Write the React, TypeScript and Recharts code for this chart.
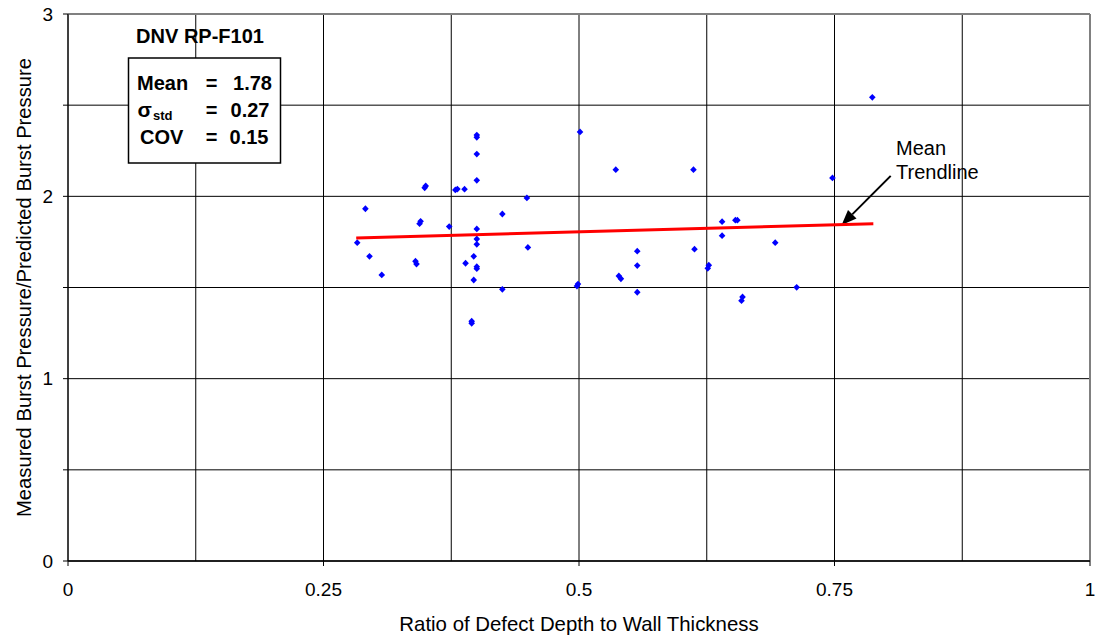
import React from 'react';
import {
  ScatterChart,
  Scatter,
  XAxis,
  YAxis,
  CartesianGrid,
  ReferenceLine,
} from 'recharts';

// Ratio of defect depth to wall thickness (x)
const defectRatio = [
  0.283, 0.291, 0.295, 0.307, 0.340, 0.341, 0.344, 0.345, 0.349, 0.350,
  0.373, 0.379, 0.381, 0.388, 0.389, 0.395, 0.395, 0.397, 0.397, 0.400,
  0.400, 0.400, 0.400, 0.400, 0.400, 0.400, 0.400, 0.400, 0.425, 0.425,
  0.449, 0.450, 0.498, 0.499, 0.501, 0.536, 0.539, 0.541, 0.557, 0.557,
  0.557, 0.612, 0.613, 0.626, 0.627, 0.640, 0.640, 0.653, 0.655, 0.659,
  0.660, 0.692, 0.713, 0.748, 0.787,
];

// Measured burst pressure / predicted burst pressure (y)
const burstRatio = [
  1.746, 1.932, 1.671, 1.569, 1.644, 1.629, 1.850, 1.863, 2.047, 2.057,
  1.834, 2.035, 2.040, 2.039, 1.633, 1.315, 1.304, 1.671, 1.541, 2.336,
  2.324, 2.232, 2.088, 1.821, 1.766, 1.737, 1.614, 1.603, 1.903, 1.490,
  1.991, 1.720, 1.508, 1.519, 2.353, 2.146, 1.563, 1.548, 1.699, 1.620,
  1.474, 2.146, 1.710, 1.605, 1.622, 1.861, 1.784, 1.869, 1.869, 1.428,
  1.448, 1.746, 1.501, 2.101, 2.543,
];

// Mean trendline end points
const trendX = [0.282, 0.788];
const trendY = [1.771, 1.85];

// Annotation arrow (start -> tip)
const arrowX = [0.805, 0.757];
const arrowY = [2.112, 1.843];

const xTicks = [0, 0.25, 0.5, 0.75, 1];
const yTicks = [0, 0.5, 1, 1.5, 2, 2.5, 3];
const minorXGrid = [0.125, 0.375, 0.625, 0.875];

const points = defectRatio.map((x, i) => ({ x, y: burstRatio[i] }));
const trend = trendX.map((x, i) => ({ x, y: trendY[i] }));

const FONT = '"Liberation Sans", Arial, Helvetica, sans-serif';

const Diamond = (props: any) => {
  const { cx, cy } = props;
  if (cx == null || cy == null) return <g />;
  const w = 3.3;
  const h = 3.4;
  return (
    <polygon
      points={`${cx},${cy - h} ${cx + w},${cy} ${cx},${cy + h} ${cx - w},${cy}`}
      fill="#0000ff"
    />
  );
};

const ArrowShape = (props: any) => {
  const { x1, y1, x2, y2 } = props;
  if ([x1, y1, x2, y2].some((v) => v == null || isNaN(v))) return <g />;
  const dx = x2 - x1;
  const dy = y2 - y1;
  const len = Math.sqrt(dx * dx + dy * dy);
  const ux = dx / len;
  const uy = dy / len;
  const headLen = 15;
  const headW = 6;
  const bx = x2 - ux * headLen;
  const by = y2 - uy * headLen;
  const px = -uy;
  const py = ux;
  return (
    <g>
      <line x1={x1} y1={y1} x2={bx} y2={by} stroke="#000" strokeWidth={2} />
      <polygon
        points={`${x2},${y2} ${bx + px * headW},${by + py * headW} ${bx - px * headW},${by - py * headW}`}
        fill="#000"
      />
    </g>
  );
};

export default function App() {
  return (
    <div
      style={{
        position: 'absolute',
        left: 0,
        top: 0,
        width: 1098,
        height: 638,
        background: '#fff',
        fontFamily: FONT,
      }}
    >
      <ScatterChart
        width={1098}
        height={638}
        margin={{ top: 14, right: 8, bottom: 0, left: 0 }}
      >
        <CartesianGrid stroke="#000" strokeWidth={1} />
        {minorXGrid.map((v) => (
          <ReferenceLine key={v} x={v} stroke="#000" strokeWidth={1} />
        ))}
        <ReferenceLine y={3} stroke="#808080" strokeWidth={2} />
        <ReferenceLine x={1} stroke="#808080" strokeWidth={2} />
        <XAxis
          type="number"
          dataKey="x"
          domain={[0, 1]}
          ticks={xTicks}
          tickFormatter={(v: number) => String(v)}
          height={77}
          tickSize={5}
          tickMargin={17}
          axisLine={{ stroke: '#000', strokeWidth: 1.5 }}
          tickLine={{ stroke: '#000' }}
          tick={{ fill: '#000', fontSize: 19, fontFamily: FONT }}
          interval={0}
          label={{
            value: 'Ratio of Defect Depth to Wall Thickness',
            position: 'insideBottom',
            offset: 7,
            fill: '#000',
            fontSize: 20.4,
            fontFamily: FONT,
          }}
        />
        <YAxis
          type="number"
          dataKey="y"
          domain={[0, 3]}
          ticks={yTicks}
          tickFormatter={(v: number) => (Number.isInteger(v) ? String(v) : '')}
          width={68}
          tickSize={5}
          tickMargin={10}
          axisLine={{ stroke: '#000', strokeWidth: 1 }}
          tickLine={{ stroke: '#000' }}
          tick={{ fill: '#000', fontSize: 19, fontFamily: FONT }}
          interval={0}
          label={{
            value: 'Measured Burst Pressure/Predicted Burst Pressure',
            angle: -90,
            position: 'center',
            dx: -10,
            fill: '#000',
            fontSize: 20.2,
            fontFamily: FONT,
          }}
        />
        <Scatter
          data={points}
          shape={<Diamond />}
          isAnimationActive={false}
        />
        <Scatter
          data={trend}
          line={{ stroke: '#ff0000', strokeWidth: 3 }}
          lineType="joint"
          shape={() => <g />}
          isAnimationActive={false}
        />
        <ReferenceLine
          segment={[
            { x: arrowX[0], y: arrowY[0] },
            { x: arrowX[1], y: arrowY[1] },
          ]}
          shape={<ArrowShape />}
        />
      </ScatterChart>
      <svg
        width={1098}
        height={638}
        style={{ position: 'absolute', left: 0, top: 0, pointerEvents: 'none' }}
      >
        <g fontFamily={FONT} fill="#000">
          <text x={200} y={43} textAnchor="middle" fontWeight="bold" fontSize={20}>
            DNV RP-F101
          </text>
          <rect x={128.5} y={58} width={152} height={105} fill="#fff" stroke="#000" strokeWidth={1.5} />
          <text x={137} y={89.5} fontWeight="bold" fontSize={20}>Mean</text>
          <text x={211.7} y={89.5} textAnchor="middle" fontWeight="bold" fontSize={20}>=</text>
          <text x={272} y={89.5} textAnchor="end" fontWeight="bold" fontSize={20}>1.78</text>
          <text x={137.5} y={116.5} fontWeight="bold" fontSize={21}>σ</text>
          <text x={153} y={119.5} fontWeight="bold" fontSize={13}>std</text>
          <text x={211.7} y={116.5} textAnchor="middle" fontWeight="bold" fontSize={20}>=</text>
          <text x={269.5} y={116.5} textAnchor="end" fontWeight="bold" fontSize={20}>0.27</text>
          <text x={140} y={143.5} fontWeight="bold" fontSize={20}>COV</text>
          <text x={211.7} y={143.5} textAnchor="middle" fontWeight="bold" fontSize={20}>=</text>
          <text x={268.5} y={143.5} textAnchor="end" fontWeight="bold" fontSize={20}>0.15</text>
          <text x={896} y={155} fontSize={20}>Mean</text>
          <text x={896} y={179} fontSize={20}>Trendline</text>
        </g>
      </svg>
    </div>
  );
}
